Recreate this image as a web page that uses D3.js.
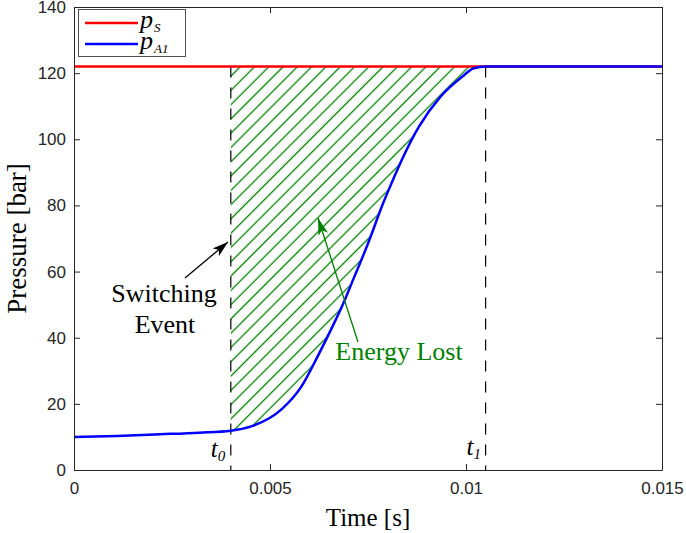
<!doctype html>
<html>
  <head>
    <script src="https://cdnjs.cloudflare.com/ajax/libs/d3/7.8.5/d3.min.js"></script>
    <style>
      body { margin: 0; background: #fff; }
      .tick text { font-family: "Liberation Sans", Arial, sans-serif; font-size: 17px; fill: #262626; }
      .serif { font-family: "Liberation Serif", "Times New Roman", serif; }
    </style>
  </head>
  <body>
    <svg id="chart" width="686" height="533"></svg>
    <script>
      // values
      var time = [0, 0.0011, 0.0022, 0.0032, 0.0040, 0.0045, 0.0053, 0.0058, 0.0062, 0.00655, 0.0069,
                  0.00715, 0.0074, 0.0076, 0.00785, 0.0081, 0.0084, 0.0088, 0.00935, 0.0099, 0.0102, 0.0105, 0.015];
      var pA1 = [10, 10.3, 10.8, 11.3, 11.9, 13.1, 18.4, 25.2, 34.0, 42.3, 51.2,
                 58.4, 65.5, 71.6, 79.6, 86.7, 94.7, 103.8, 112.9, 118.9, 121.5, 122, 122];
      var pS = 122;
      var t0 = 0.004, t1 = 0.0105;
      var xTicks = [0, 0.005, 0.01, 0.015];
      var yTicks = [0, 20, 40, 60, 80, 100, 120, 140];

      var svg = d3.select("#chart");
      var pLeft = 74, pRight = 662, pTop = 7, pBottom = 470;
      var x = d3.scaleLinear().domain([0, 0.015]).range([pLeft, pRight]);
      var y = d3.scaleLinear().domain([0, 140]).range([pBottom, pTop]);
      var green = "#008000";

      var pts = time.map(function(t, i) { return {t: t, p: pA1[i]}; });

      // hatch pattern
      var defs = svg.append("defs");
      var pat = defs.append("pattern").attr("id", "hatch")
        .attr("patternUnits", "userSpaceOnUse")
        .attr("width", 10.1).attr("height", 10.1)
        .attr("patternTransform", "rotate(45)");
      pat.append("line").attr("x1", 5).attr("x2", 5).attr("y1", 0).attr("y2", 10.1)
        .attr("stroke", green).attr("stroke-width", 1.3);

      var area = d3.area()
        .x(function(d) { return x(d.t); })
        .y0(function(d) { return y(d.p); })
        .y1(y(pS))
        .curve(d3.curveMonotoneX);
      svg.append("path")
        .datum(pts.filter(function(d) { return d.t >= t0 && d.t <= t1; }))
        .attr("d", area)
        .attr("fill", "url(#hatch)");

      // dashed markers
      [t0, t1].forEach(function(t) {
        svg.append("line")
          .attr("x1", x(t)).attr("x2", x(t))
          .attr("y1", y(pS)).attr("y2", y(0))
          .attr("stroke", "#000").attr("stroke-width", 1.2)
          .attr("stroke-dasharray", "11,10");
      });

      // lines
      svg.append("line")
        .attr("x1", x(0)).attr("x2", x(0.015))
        .attr("y1", y(pS)).attr("y2", y(pS))
        .attr("stroke", "#ff0000").attr("stroke-width", 2.5);

      var line = d3.line()
        .x(function(d) { return x(d.t); })
        .y(function(d) { return y(d.p); })
        .curve(d3.curveMonotoneX);
      svg.append("path").datum(pts).attr("d", line)
        .attr("fill", "none").attr("stroke", "#0000ff").attr("stroke-width", 2.5);

      // axes
      var tl = 6;
      svg.append("g").attr("transform", "translate(0," + pBottom + ")")
        .call(d3.axisBottom(x).tickValues(xTicks).tickFormat(function(d) { return d; })
          .tickSizeInner(-tl).tickSizeOuter(0).tickPadding(12));
      svg.append("g").attr("transform", "translate(0," + pTop + ")")
        .call(d3.axisTop(x).tickValues(xTicks).tickFormat("").tickSizeInner(-tl).tickSizeOuter(0));
      svg.append("g").attr("transform", "translate(" + pLeft + ",0)")
        .call(d3.axisLeft(y).tickValues(yTicks).tickSizeInner(-tl).tickSizeOuter(0).tickPadding(8));
      svg.append("g").attr("transform", "translate(" + pRight + ",0)")
        .call(d3.axisRight(y).tickValues(yTicks).tickFormat("").tickSizeInner(-tl).tickSizeOuter(0));
      svg.selectAll(".domain").attr("stroke", "#262626");
      svg.selectAll(".tick line").attr("stroke", "#262626");

      // axis labels
      svg.append("text").attr("class", "serif")
        .attr("x", (pLeft + pRight) / 2).attr("y", 526)
        .attr("text-anchor", "middle").attr("font-size", 25).text("Time [s]");
      svg.append("text").attr("class", "serif")
        .attr("transform", "translate(26," + (pTop + pBottom) / 2 + ") rotate(-90)")
        .attr("text-anchor", "middle").attr("font-size", 27).text("Pressure [bar]");

      // t0, t1 labels
      function tLabel(xp, yp, sub) {
        var t = svg.append("text").attr("class", "serif").attr("font-style", "italic")
          .attr("x", xp).attr("y", yp).attr("font-size", 25);
        t.append("tspan").text("t");
        t.append("tspan").attr("font-size", 15).attr("dy", 4).text(sub);
      }
      tLabel(x(t0) - 20, 457, "0");
      tLabel(x(t1) - 19, 455, "1");

      // arrows
      defs.append("marker").attr("id", "ahBlack")
        .attr("viewBox", "0 0 16 10").attr("refX", 16).attr("refY", 5)
        .attr("markerWidth", 16).attr("markerHeight", 10)
        .attr("markerUnits", "userSpaceOnUse").attr("orient", "auto")
        .append("path").attr("d", "M0,0 L16,5 L0,10 L4,5 Z").attr("fill", "#000");
      defs.append("marker").attr("id", "ahGreen")
        .attr("viewBox", "0 0 17 10").attr("refX", 17).attr("refY", 5)
        .attr("markerWidth", 17).attr("markerHeight", 10)
        .attr("markerUnits", "userSpaceOnUse").attr("orient", "auto")
        .append("path").attr("d", "M0,0 L17,5 L0,10 L4,5 Z").attr("fill", green);

      svg.append("line").attr("x1", 185).attr("y1", 278).attr("x2", 228).attr("y2", 242)
        .attr("stroke", "#000").attr("stroke-width", 1.3).attr("marker-end", "url(#ahBlack)");
      svg.append("line").attr("x1", 358).attr("y1", 342).attr("x2", 318).attr("y2", 218)
        .attr("stroke", green).attr("stroke-width", 1.3).attr("marker-end", "url(#ahGreen)");

      svg.append("text").attr("class", "serif").attr("x", 164).attr("y", 302)
        .attr("text-anchor", "middle").attr("font-size", 26).text("Switching");
      svg.append("text").attr("class", "serif").attr("x", 165).attr("y", 333)
        .attr("text-anchor", "middle").attr("font-size", 26).text("Event");
      svg.append("text").attr("class", "serif").attr("x", 399).attr("y", 360)
        .attr("text-anchor", "middle").attr("font-size", 26).attr("fill", green).text("Energy Lost");

      // legend
      var lg = svg.append("g");
      lg.append("rect").attr("x", 78.5).attr("y", 9.5).attr("width", 107).attr("height", 47)
        .attr("fill", "#fff").attr("stroke", "#4d4d4d").attr("stroke-width", 1);
      var items = [{c: "#ff0000", sub: "S"}, {c: "#0000ff", sub: "A1"}];
      items.forEach(function(it, i) {
        var yy = 23 + i * 21;
        lg.append("line").attr("x1", 85).attr("x2", 138).attr("y1", yy).attr("y2", yy)
          .attr("stroke", it.c).attr("stroke-width", 2.5);
        var t = lg.append("text").attr("class", "serif").attr("font-style", "italic")
          .attr("x", 140).attr("y", yy + 5).attr("font-size", 26);
        t.append("tspan").text("p");
        t.append("tspan").attr("font-size", 13).attr("dy", 4).attr("dx", 1).text(it.sub);
      });
    </script>
  </body>
</html>
